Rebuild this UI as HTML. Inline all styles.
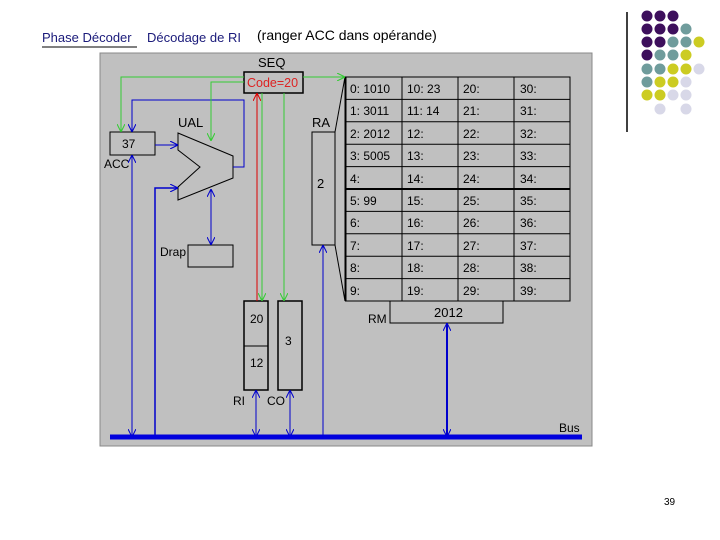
<!DOCTYPE html>
<html><head><meta charset="utf-8"><style>
html,body{margin:0;padding:0;background:#fff;width:720px;height:540px;overflow:hidden}
svg{display:block;font-family:"Liberation Sans",sans-serif}
</style></head><body>
<svg width="720" height="540" viewBox="0 0 720 540" xmlns="http://www.w3.org/2000/svg">
<defs>
<marker id="ab" viewBox="0 0 10 10" refX="10" refY="5" markerWidth="8" markerHeight="8" markerUnits="userSpaceOnUse" orient="auto-start-reverse"><path d="M0,0 L10,5 L0,10" fill="none" stroke="#0000cc" stroke-width="1.3"/></marker>
<marker id="ag" viewBox="0 0 10 10" refX="10" refY="5" markerWidth="8" markerHeight="8" markerUnits="userSpaceOnUse" orient="auto-start-reverse"><path d="M0,0 L10,5 L0,10" fill="none" stroke="#33cc33" stroke-width="1.3"/></marker>
<marker id="ar" viewBox="0 0 10 10" refX="10" refY="5" markerWidth="8" markerHeight="8" markerUnits="userSpaceOnUse" orient="auto-start-reverse"><path d="M0,0 L10,5 L0,10" fill="none" stroke="#dd0000" stroke-width="1.3"/></marker>
</defs>
<text x="42" y="42" font-size="13" fill="#1a1a7a">Phase Décoder</text>
<line x1="42" y1="47" x2="137" y2="47" stroke="#000" stroke-width="1"/>
<text x="147" y="42" font-size="13" fill="#1a1a7a">Décodage de RI</text>
<text x="257" y="40" font-size="14" fill="#000">(ranger ACC dans opérande)</text>
<line x1="627" y1="12" x2="627" y2="132" stroke="#000" stroke-width="1.5"/>
<g>
<circle cx="647" cy="16" r="5.5" fill="#3d0f5c"/><circle cx="660" cy="16" r="5.5" fill="#3d0f5c"/><circle cx="673" cy="16" r="5.5" fill="#3d0f5c"/>
<circle cx="647" cy="29" r="5.5" fill="#3d0f5c"/><circle cx="660" cy="29" r="5.5" fill="#3d0f5c"/><circle cx="673" cy="29" r="5.5" fill="#3d0f5c"/><circle cx="686" cy="29" r="5.5" fill="#6f9c9c"/>
<circle cx="647" cy="42" r="5.5" fill="#3d0f5c"/><circle cx="660" cy="42" r="5.5" fill="#3d0f5c"/><circle cx="673" cy="42" r="5.5" fill="#6f9c9c"/><circle cx="686" cy="42" r="5.5" fill="#6f9c9c"/><circle cx="699" cy="42" r="5.5" fill="#cccc22"/>
<circle cx="647" cy="55" r="5.5" fill="#3d0f5c"/><circle cx="660" cy="55" r="5.5" fill="#6f9c9c"/><circle cx="673" cy="55" r="5.5" fill="#6f9c9c"/><circle cx="686" cy="55" r="5.5" fill="#cccc22"/>
<circle cx="647" cy="69" r="5.5" fill="#6f9c9c"/><circle cx="660" cy="69" r="5.5" fill="#6f9c9c"/><circle cx="673" cy="69" r="5.5" fill="#cccc22"/><circle cx="686" cy="69" r="5.5" fill="#cccc22"/><circle cx="699" cy="69" r="5.5" fill="#d8d8e8"/>
<circle cx="647" cy="82" r="5.5" fill="#6f9c9c"/><circle cx="660" cy="82" r="5.5" fill="#cccc22"/><circle cx="673" cy="82" r="5.5" fill="#cccc22"/><circle cx="686" cy="82" r="5.5" fill="#d8d8e8"/>
<circle cx="647" cy="95" r="5.5" fill="#cccc22"/><circle cx="660" cy="95" r="5.5" fill="#cccc22"/><circle cx="673" cy="95" r="5.5" fill="#d8d8e8"/><circle cx="686" cy="95" r="5.5" fill="#d8d8e8"/>
<circle cx="660" cy="109" r="5.5" fill="#d8d8e8"/><circle cx="686" cy="109" r="5.5" fill="#d8d8e8"/>
</g>
<rect x="100" y="53" width="492" height="393" fill="#c0c0c0" stroke="#888" stroke-width="1"/>
<text x="258" y="67" font-size="13" fill="#000">SEQ</text>
<g stroke="#000" stroke-width="1" fill="none">
<rect x="345.5" y="77" width="224.5" height="224"/>
<line x1="402" y1="77" x2="402" y2="301"/><line x1="458" y1="77" x2="458" y2="301"/><line x1="514" y1="77" x2="514" y2="301"/>
<line x1="345" y1="99.4" x2="570" y2="99.4"/><line x1="345" y1="121.8" x2="570" y2="121.8"/><line x1="345" y1="144.2" x2="570" y2="144.2"/><line x1="345" y1="166.6" x2="570" y2="166.6"/>
<line x1="345" y1="189" x2="570" y2="189" stroke-width="2"/><line x1="345" y1="211.4" x2="570" y2="211.4"/><line x1="345" y1="233.8" x2="570" y2="233.8"/><line x1="345" y1="256.2" x2="570" y2="256.2"/><line x1="345" y1="278.6" x2="570" y2="278.6"/>
<line x1="345.5" y1="77" x2="345.5" y2="301" stroke-width="2"/>
<line x1="335" y1="132" x2="345" y2="77"/><line x1="335" y1="245" x2="345" y2="301"/>
</g>
<g font-size="12" fill="#000">
<text x="350" y="93">0: 1010</text><text x="407" y="93">10: 23</text><text x="463" y="93">20:</text><text x="520" y="93">30:</text>
<text x="350" y="115">1: 3011</text><text x="407" y="115">11: 14</text><text x="463" y="115">21:</text><text x="520" y="115">31:</text>
<text x="350" y="138">2: 2012</text><text x="407" y="138">12:</text><text x="463" y="138">22:</text><text x="520" y="138">32:</text>
<text x="350" y="160">3: 5005</text><text x="407" y="160">13:</text><text x="463" y="160">23:</text><text x="520" y="160">33:</text>
<text x="350" y="183">4:</text><text x="407" y="183">14:</text><text x="463" y="183">24:</text><text x="520" y="183">34:</text>
<text x="350" y="205">5: 99</text><text x="407" y="205">15:</text><text x="463" y="205">25:</text><text x="520" y="205">35:</text>
<text x="350" y="227">6:</text><text x="407" y="227">16:</text><text x="463" y="227">26:</text><text x="520" y="227">36:</text>
<text x="350" y="250">7:</text><text x="407" y="250">17:</text><text x="463" y="250">27:</text><text x="520" y="250">37:</text>
<text x="350" y="272">8:</text><text x="407" y="272">18:</text><text x="463" y="272">28:</text><text x="520" y="272">38:</text>
<text x="350" y="295">9:</text><text x="407" y="295">19:</text><text x="463" y="295">29:</text><text x="520" y="295">39:</text>
</g>
<g stroke="#000" stroke-width="1" fill="none">
<rect x="244" y="72" width="59" height="21" stroke-width="1.5"/>
<rect x="312" y="132" width="23" height="113"/>
<rect x="390" y="301" width="113" height="22"/>
<rect x="244" y="301" width="24" height="89" stroke-width="1.5"/><line x1="244" y1="346" x2="268" y2="346"/>
<rect x="278" y="301" width="24" height="89" stroke-width="1.5"/>
<rect x="110" y="132" width="45" height="23"/>
<rect x="188" y="245" width="45" height="22"/>
<polygon points="178,133 233,156 233,178 178,200 178,187 200,167 178,150"/>
</g>
<text x="247" y="87" font-size="12.5" fill="#dd2222">Code=20</text>
<text x="317" y="188" font-size="13">2</text>
<text x="434" y="317" font-size="13">2012</text>
<text x="368" y="323" font-size="12">RM</text>
<text x="250" y="323" font-size="12">20</text>
<text x="250" y="367" font-size="12">12</text>
<text x="285" y="345" font-size="12">3</text>
<text x="122" y="148" font-size="12">37</text>
<text x="104" y="168" font-size="12">ACC</text>
<text x="178" y="127" font-size="13">UAL</text>
<text x="312" y="127" font-size="13">RA</text>
<text x="160" y="256" font-size="12">Drap</text>
<text x="233" y="405" font-size="12">RI</text>
<text x="267" y="405" font-size="12">CO</text>
<text x="559" y="432" font-size="12">Bus</text>
<g stroke="#0000cc" stroke-width="1" fill="none">
<polyline points="233,167 244,167 244,100 132,100 132,132" marker-end="url(#ab)"/>
<line x1="155" y1="145" x2="178" y2="145" marker-end="url(#ab)"/>
<polyline points="155,437 155,188 178,188" marker-end="url(#ab)" stroke-width="1.5"/>
<line x1="132" y1="155" x2="132" y2="437" marker-start="url(#ab)" marker-end="url(#ab)"/>
<line x1="211" y1="189" x2="211" y2="245" marker-start="url(#ab)" marker-end="url(#ab)"/>
<line x1="323" y1="437" x2="323" y2="245" marker-end="url(#ab)"/>
<line x1="256" y1="390" x2="256" y2="437" marker-start="url(#ab)" marker-end="url(#ab)"/>
<line x1="290" y1="390" x2="290" y2="437" marker-start="url(#ab)" marker-end="url(#ab)"/>
<line x1="447" y1="323" x2="447" y2="437" stroke-width="2" marker-start="url(#ab)" marker-end="url(#ab)"/>
</g>
<line x1="110" y1="437" x2="582" y2="437" stroke="#0000dd" stroke-width="5"/>
<g stroke="#33cc33" stroke-width="1" fill="none">
<polyline points="244,77 121,77 121,132" marker-end="url(#ag)"/>
<polyline points="244,82 211,82 211,141" marker-end="url(#ag)"/>
<line x1="303" y1="77" x2="345" y2="77" marker-end="url(#ag)"/>
<line x1="262" y1="93" x2="262" y2="301" marker-end="url(#ag)"/>
<line x1="284" y1="93" x2="284" y2="301" marker-end="url(#ag)"/>
</g>
<line x1="257" y1="301" x2="257" y2="93" stroke="#dd0000" stroke-width="1" marker-end="url(#ar)"/>
<text x="664" y="505" font-size="10" fill="#000">39</text>
</svg>
</body></html>
